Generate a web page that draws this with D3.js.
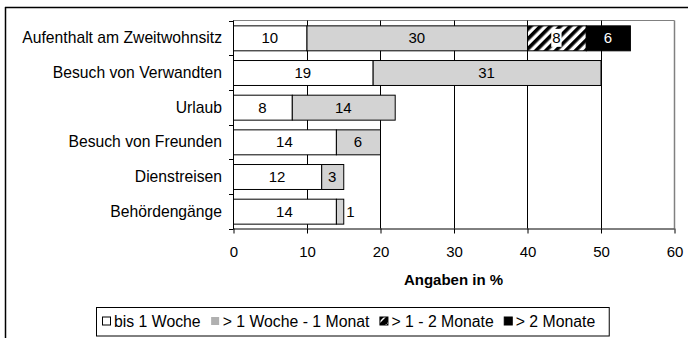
<!DOCTYPE html>
<html>
<head>
<meta charset="utf-8">
<script src="https://cdn.jsdelivr.net/npm/d3@7"></script>
<style>
  html, body { margin: 0; padding: 0; background: #fff; }
  svg { display: block; font-family: "Liberation Sans", Arial, sans-serif; }
</style>
</head>
<body>
<svg id="chart" width="688" height="338"></svg>
<script>
// Reasons for trips, split by length of stay (percent of answers)
const categories = [
  "Aufenthalt am Zweitwohnsitz",
  "Besuch von Verwandten",
  "Urlaub",
  "Besuch von Freunden",
  "Dienstreisen",
  "Behördengänge"
];
const bisEineWoche     = [10, 19, 8, 14, 12, 14];
const eineWocheEinMonat = [30, 31, 14, 6, 3, 1];
const einBisZweiMonate = [8, 0, 0, 0, 0, 0];
const ueberZweiMonate  = [6, 0, 0, 0, 0, 0];
const seriesNames = ["bis 1 Woche", "> 1 Woche - 1 Monat", "> 1 - 2 Monate", "> 2 Monate"];
const xTicks = [0, 10, 20, 30, 40, 50, 60];
const xTitle = "Angaben in %";

const keys = ["s0", "s1", "s2", "s3"];
const rows = categories.map((c, i) => ({
  cat: c,
  s0: bisEineWoche[i],
  s1: eineWocheEinMonat[i],
  s2: einBisZweiMonate[i],
  s3: ueberZweiMonate[i]
}));

const fills = { s0: "#ffffff", s1: "#d3d3d3", s2: "url(#hatch)", s3: "#000000" };
const labelColors = { s0: "#000", s1: "#000", s2: "#000", s3: "#fff" };

const svg = d3.select("#chart");

// diagonal hatch for the 1-2 month segment
const defs = svg.append("defs");
const pat = defs.append("pattern")
  .attr("id", "hatch")
  .attr("patternUnits", "userSpaceOnUse")
  .attr("width", 7).attr("height", 7)
  .attr("patternTransform", "rotate(45)");
pat.append("rect").attr("width", 7).attr("height", 7).attr("fill", "#fff");
pat.append("rect").attr("width", 3.6).attr("height", 7).attr("fill", "#000");

// frame lines around the figure
svg.append("line").attr("x1", 5).attr("x2", 688).attr("y1", 7.5).attr("y2", 7.5)
  .attr("stroke", "#000").attr("stroke-width", 1.5);
svg.append("line").attr("x1", 5.5).attr("x2", 5.5).attr("y1", 7).attr("y2", 338)
  .attr("stroke", "#000").attr("stroke-width", 1.5);

const plot = { left: 233, right: 674, top: 20.5, bottom: 228.5 };

const x = d3.scaleLinear().domain([0, 60]).range([plot.left, plot.right]);
const y = d3.scaleBand().domain(categories).range([plot.top, plot.bottom])
  .paddingInner(0.28).paddingOuter(0.14);

// plot area top/right border (grey)
svg.append("line").attr("x1", plot.left).attr("x2", plot.right + 0.5)
  .attr("y1", plot.top).attr("y2", plot.top).attr("stroke", "#808080");
// vertical gridlines
svg.append("g").selectAll("line").data(xTicks.filter(t => t > 0))
  .join("line")
  .attr("x1", d => Math.round(x(d)) + 0.5).attr("x2", d => Math.round(x(d)) + 0.5)
  .attr("y1", plot.top).attr("y2", plot.bottom)
  .attr("stroke", d => d === 60 ? "#808080" : "#000")
  .attr("stroke-width", d => d === 60 ? 1.5 : 1);

// stacked bars
const stacked = d3.stack().keys(keys)(rows);
const barG = svg.append("g");
stacked.forEach(layer => {
  const key = layer.key;
  const segs = layer.map((d, i) => ({ key, cat: rows[i].cat, x0: d[0], x1: d[1], v: d[1] - d[0] }))
    .filter(d => d.v > 0);
  barG.append("g").selectAll("rect").data(segs).join("rect")
    .attr("x", d => x(d.x0) + 0.5)
    .attr("y", d => y(d.cat) + 0.5)
    .attr("width", d => x(d.x1) - x(d.x0))
    .attr("height", y.bandwidth())
    .attr("fill", fills[key])
    .attr("stroke", "#000")
    .attr("stroke-width", 1);
});

// value labels
const labG = svg.append("g").attr("font-size", 15);
stacked.forEach(layer => {
  const key = layer.key;
  layer.forEach((d, i) => {
    const v = d[1] - d[0];
    if (v <= 0) return;
    const w = x(d[1]) - x(d[0]);
    const cy = y(rows[i].cat) + y.bandwidth() / 2;
    const inside = w > 14;
    const tx = inside ? (x(d[0]) + x(d[1])) / 2 : x(d[1]) + 3;
    const t = labG.append("text")
      .attr("x", tx).attr("y", cy)
      .attr("dy", "0.36em")
      .attr("text-anchor", inside ? "middle" : "start")
      .attr("fill", inside ? labelColors[key] : "#000")
      .text(v);
    if (key === "s2") {
      const bb = t.node().getBBox();
      labG.insert("rect", () => t.node())
        .attr("x", bb.x - 1).attr("y", cy - 9)
        .attr("width", bb.width + 2).attr("height", 18)
        .attr("fill", "#fff");
    }
  });
});

// x axis
const xAxis = d3.axisBottom(x).tickValues(xTicks).tickSize(5).tickPadding(13)
  .tickFormat(d3.format("d"));
const xg = svg.append("g").attr("transform", `translate(0.5,${plot.bottom})`).call(xAxis);
xg.select(".domain").attr("d", `M${plot.left},0.5H${plot.right}`).attr("stroke", "#000");
xg.selectAll(".tick line").attr("stroke", "#000");
xg.selectAll(".tick text").attr("font-size", 15).attr("fill", "#000")
  .attr("font-family", "'Liberation Sans', Arial, sans-serif");

// y axis: line, boundary ticks, category labels
const yg = svg.append("g");
yg.append("line").attr("x1", plot.left + 0.5).attr("x2", plot.left + 0.5)
  .attr("y1", plot.top).attr("y2", plot.bottom + 0.5).attr("stroke", "#000");
const bounds = d3.range(categories.length + 1).map(i => plot.top + i * y.step());
yg.selectAll("line.tk").data(bounds).join("line").attr("class", "tk")
  .attr("x1", plot.left - 4).attr("x2", plot.left + 0.5)
  .attr("y1", d => Math.round(d) + 0.5).attr("y2", d => Math.round(d) + 0.5)
  .attr("stroke", "#000");
yg.selectAll("text").data(categories).join("text")
  .attr("x", plot.left - 11)
  .attr("y", d => y(d) + y.bandwidth() / 2)
  .attr("dy", "0.36em")
  .attr("text-anchor", "end")
  .attr("font-size", 15.7)
  .text(d => d);

// axis title
svg.append("text")
  .attr("x", (plot.left + plot.right) / 2).attr("y", 285)
  .attr("text-anchor", "middle").attr("font-size", 15).attr("font-weight", "bold")
  .text(xTitle);

// legend
const leg = svg.append("g");
const legRect = leg.append("rect").attr("x", 96.5).attr("y", 307.5)
  .attr("height", 28.5).attr("fill", "#fff").attr("stroke", "#000");
const swatchFill = ["#fff", "#b0b0b0", "url(#hatchSmall)", "#000"];
const pat2 = defs.append("pattern")
  .attr("id", "hatchSmall")
  .attr("patternUnits", "userSpaceOnUse")
  .attr("width", 9).attr("height", 9);
pat2.append("rect").attr("width", 9).attr("height", 9).attr("fill", "#000");
pat2.append("path").attr("d", "M0,9 L9,0").attr("stroke", "#fff").attr("stroke-width", 1.5);
let lx = 102;
const ly = 321.5;
seriesNames.forEach((name, i) => {
  leg.append("rect")
    .attr("x", lx + 0.5).attr("y", ly - 4.5)
    .attr("width", 8).attr("height", 8)
    .attr("fill", swatchFill[i])
    .attr("stroke", i === 1 ? "none" : "#000");
  const t = leg.append("text")
    .attr("x", lx + 12).attr("y", ly).attr("dy", "0.36em")
    .attr("font-size", 15.8).text(name);
  lx = lx + 12 + t.node().getComputedTextLength() + 10;
});
legRect.attr("width", lx + 4 - 96.5);
</script>
</body>
</html>
